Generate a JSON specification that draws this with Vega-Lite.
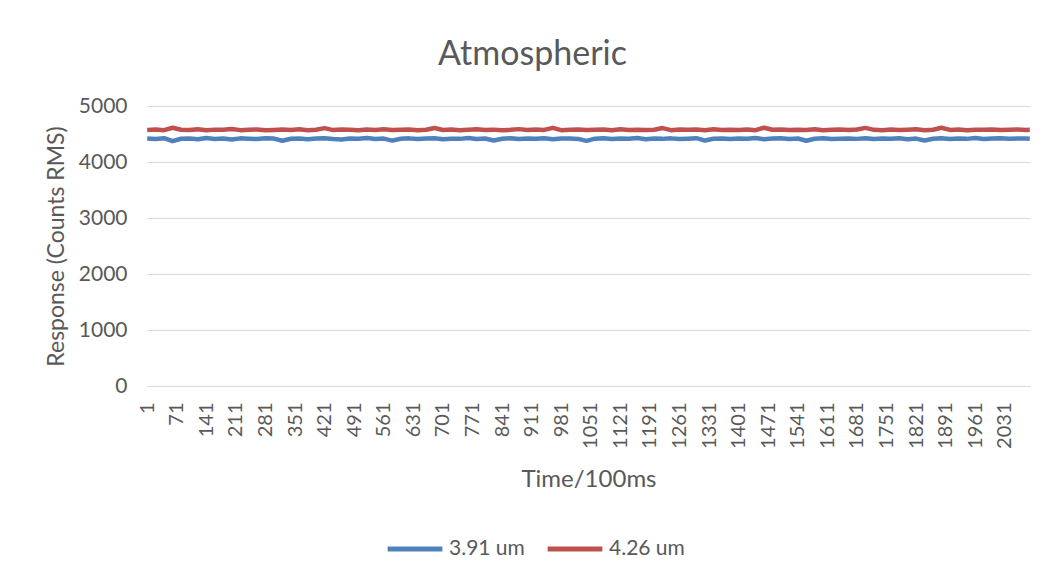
{
  "$schema": "https://vega.github.io/schema/vega-lite/v6.json",
  "width": 883,
  "height": 280,
  "autosize": {"type": "none"},
  "padding": {"left": 147, "top": 106, "right": 18, "bottom": 195},
  "background": "white",
  "config": {"font": "Lato", "view": {"stroke": null}},
  "title": {"text": "Atmospheric", "fontSize": 34, "fontWeight": "normal", "color": "#595959", "anchor": "middle", "frame": "group", "dx": -56, "offset": 23},
  "data": {"values": [
    {"t":1,"a":4418,"b":4572},{"t":21,"a":4410,"b":4580},{"t":41,"a":4425,"b":4568},{"t":61,"a":4372,"b":4612},
    {"t":81,"a":4415,"b":4575},{"t":101,"a":4420,"b":4570},{"t":121,"a":4405,"b":4583},{"t":141,"a":4428,"b":4566},
    {"t":161,"a":4412,"b":4578},{"t":181,"a":4418,"b":4574},{"t":201,"a":4400,"b":4590},{"t":221,"a":4422,"b":4569},
    {"t":241,"a":4415,"b":4577},{"t":261,"a":4409,"b":4581},{"t":281,"a":4426,"b":4565},{"t":301,"a":4418,"b":4573},
    {"t":321,"a":4380,"b":4579},{"t":341,"a":4414,"b":4571},{"t":361,"a":4421,"b":4584},{"t":381,"a":4408,"b":4567},
    {"t":401,"a":4419,"b":4576},{"t":421,"a":4425,"b":4605},{"t":441,"a":4411,"b":4570},{"t":461,"a":4403,"b":4582},
    {"t":481,"a":4420,"b":4574},{"t":501,"a":4416,"b":4568},{"t":521,"a":4427,"b":4579},{"t":541,"a":4409,"b":4573},
    {"t":561,"a":4418,"b":4586},{"t":581,"a":4382,"b":4570},{"t":601,"a":4415,"b":4575},{"t":621,"a":4422,"b":4581},
    {"t":641,"a":4410,"b":4566},{"t":661,"a":4419,"b":4577},{"t":681,"a":4424,"b":4608},{"t":701,"a":4406,"b":4572},
    {"t":721,"a":4417,"b":4580},{"t":741,"a":4413,"b":4569},{"t":761,"a":4428,"b":4576},{"t":781,"a":4411,"b":4583},
    {"t":801,"a":4420,"b":4571},{"t":821,"a":4385,"b":4578},{"t":841,"a":4416,"b":4565},{"t":861,"a":4423,"b":4574},
    {"t":881,"a":4409,"b":4587},{"t":901,"a":4418,"b":4570},{"t":921,"a":4414,"b":4579},{"t":941,"a":4426,"b":4573},
    {"t":961,"a":4407,"b":4610},{"t":981,"a":4419,"b":4568},{"t":1001,"a":4421,"b":4577},{"t":1021,"a":4412,"b":4582},
    {"t":1041,"a":4378,"b":4571},{"t":1061,"a":4417,"b":4575},{"t":1081,"a":4424,"b":4580},{"t":1101,"a":4410,"b":4567},
    {"t":1121,"a":4418,"b":4584},{"t":1141,"a":4415,"b":4573},{"t":1161,"a":4427,"b":4578},{"t":1181,"a":4408,"b":4570},
    {"t":1201,"a":4420,"b":4576},{"t":1221,"a":4413,"b":4606},{"t":1241,"a":4422,"b":4569},{"t":1261,"a":4409,"b":4581},
    {"t":1281,"a":4417,"b":4574},{"t":1301,"a":4425,"b":4579},{"t":1321,"a":4383,"b":4566},{"t":1341,"a":4414,"b":4583},
    {"t":1361,"a":4421,"b":4572},{"t":1381,"a":4411,"b":4577},{"t":1401,"a":4419,"b":4571},{"t":1421,"a":4416,"b":4580},
    {"t":1441,"a":4428,"b":4568},{"t":1461,"a":4407,"b":4612},{"t":1481,"a":4418,"b":4575},{"t":1501,"a":4422,"b":4582},
    {"t":1521,"a":4412,"b":4570},{"t":1541,"a":4420,"b":4578},{"t":1561,"a":4380,"b":4573},{"t":1581,"a":4415,"b":4585},
    {"t":1601,"a":4424,"b":4567},{"t":1621,"a":4410,"b":4576},{"t":1641,"a":4417,"b":4580},{"t":1661,"a":4421,"b":4571},
    {"t":1681,"a":4413,"b":4579},{"t":1701,"a":4426,"b":4609},{"t":1721,"a":4409,"b":4574},{"t":1741,"a":4419,"b":4568},
    {"t":1761,"a":4414,"b":4581},{"t":1781,"a":4423,"b":4572},{"t":1801,"a":4408,"b":4577},{"t":1821,"a":4418,"b":4583},
    {"t":1841,"a":4384,"b":4569},{"t":1861,"a":4416,"b":4575},{"t":1881,"a":4425,"b":4611},{"t":1901,"a":4411,"b":4573},
    {"t":1921,"a":4420,"b":4580},{"t":1941,"a":4413,"b":4567},{"t":1961,"a":4427,"b":4578},{"t":1981,"a":4410,"b":4574},
    {"t":2001,"a":4418,"b":4582},{"t":2021,"a":4422,"b":4570},{"t":2041,"a":4414,"b":4576},{"t":2061,"a":4419,"b":4579},
    {"t":2081,"a":4421,"b":4572},{"t":2090,"a":4417,"b":4575}
  ]},
  "transform": [{"fold": ["a", "b"], "as": ["series", "value"]}],
  "mark": {"type": "line", "strokeWidth": 4.5, "strokeJoin": "round"},
  "encoding": {
    "x": {
      "field": "t", "type": "quantitative",
      "scale": {"domain": [0.5, 2090.5], "nice": false, "zero": false},
      "axis": {
        "values": [1,71,141,211,281,351,421,491,561,631,701,771,841,911,981,1051,1121,1191,1261,1331,1401,1471,1541,1611,1681,1751,1821,1891,1961,2031],
        "format": "d",
        "labelAngle": -90, "labelOverlap": false, "labelFlush": false,
        "title": "Time/100ms", "grid": false, "ticks": false,
        "domainColor": "#d9d9d9", "domainWidth": 1,
        "labelColor": "#595959", "labelFontSize": 20, "labelPadding": 16,
        "titleColor": "#595959", "titleFontSize": 24, "titleFontWeight": "normal", "titlePadding": 19
      }
    },
    "y": {
      "field": "value", "type": "quantitative",
      "scale": {"domain": [0, 5000], "nice": false},
      "axis": {
        "values": [0, 1000, 2000, 3000, 4000, 5000],
        "format": "d",
        "title": "Response (Counts RMS)", "domain": false, "ticks": false,
        "gridColor": "#d9d9d9", "gridWidth": 1,
        "labelColor": "#595959", "labelFontSize": 21, "labelPadding": 20,
        "titleColor": "#595959", "titleFontSize": 23, "titleFontWeight": "normal", "titlePadding": 10
      }
    },
    "color": {
      "field": "series", "type": "nominal",
      "scale": {"domain": ["a", "b"], "range": ["#4f81bd", "#c0504d"]},
      "legend": {
        "orient": "none", "legendX": 238, "legendY": 413, "direction": "horizontal",
        "title": null, "labelExpr": "datum.label == 'a' ? '3.91 um' : '4.26 um'",
        "symbolType": "stroke", "symbolStrokeWidth": 5, "symbolSize": 3000,
        "labelFontSize": 21, "labelColor": "#595959", "labelOffset": 4, "columnPadding": 12
      }
    }
  }
}
